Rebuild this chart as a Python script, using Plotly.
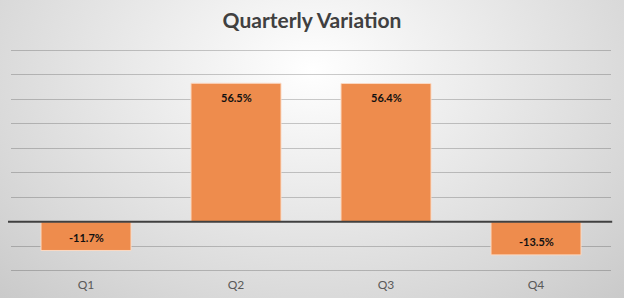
import plotly.graph_objects as go
import urllib.parse

quarters = ["Q1", "Q2", "Q3", "Q4"]
variation = [-11.7, 56.5, 56.4, -13.5]
labels = ["-11.7%", "56.5%", "56.4%", "-13.5%"]

svg = (
    "<svg xmlns='http://www.w3.org/2000/svg' width='624' height='298' preserveAspectRatio='none'>"
    "<defs><radialGradient id='g' gradientUnits='userSpaceOnUse' cx='312' cy='70' r='450' fx='312' fy='70' "
    "gradientTransform='translate(312 70) scale(1 0.72) translate(-312 -70)'>"
    "<stop offset='0' stop-color='#ffffff'/>"
    "<stop offset='0.24' stop-color='#f2f2f2'/>"
    "<stop offset='0.72' stop-color='#d9d9d9'/>"
    "<stop offset='1' stop-color='#c9c9c9'/>"
    "</radialGradient></defs>"
    "<rect width='624' height='298' fill='url(#g)'/></svg>"
)
bg = "data:image/svg+xml;charset=utf-8," + urllib.parse.quote(svg)

fig = go.Figure()
fig.add_trace(go.Bar(
    x=quarters, y=variation,
    marker=dict(color="#ee8c4d", line=dict(color="#fbd9c3", width=1)),
    hoverinfo="x+y",
))

for q, v, t in zip(quarters, variation, labels):
    fig.add_annotation(x=q, y=v, text="<b>" + t + "</b>", showarrow=False,
                       yanchor="middle", yshift=-14 if v > 0 else 13,
                       font=dict(family="Lato", size=11, color="#111111"))

fig.add_shape(type="line", xref="paper", yref="y", x0=-0.005, x1=1.002, y0=0, y1=0,
              line=dict(color="#404040", width=2), layer="above")

fig.update_layout(
    width=624, height=298,
    margin=dict(l=11, r=13, t=47, b=24, autoexpand=False),
    paper_bgcolor="rgba(0,0,0,0)", plot_bgcolor="rgba(0,0,0,0)",
    bargap=0.4,
    showlegend=False,
    title=dict(text="<b>Quarterly Variation</b>", x=0.5, xanchor="center", y=0.93, yanchor="middle",
               font=dict(family="Lato", size=21, color="#404040")),
    images=[dict(source=bg, xref="paper", yref="paper", x=-11/600, y=1 + 47/227,
                 sizex=624/600, sizey=298/227, sizing="stretch", layer="below",
                 xanchor="left", yanchor="top")],
    xaxis=dict(showgrid=False, showline=False, ticks="", ticklabelstandoff=2, automargin=False,
               tickfont=dict(family="Lato", size=12, color="#595959")),
    yaxis=dict(range=[-21.3, 71.3], tickvals=[-20, -10, 0, 10, 20, 30, 40, 50, 60, 70],
               showgrid=True, gridcolor="rgba(0,0,0,0.2)", gridwidth=1, automargin=False,
               zeroline=False, showticklabels=False, ticks=""),
)

fig.write_html("out.html")
